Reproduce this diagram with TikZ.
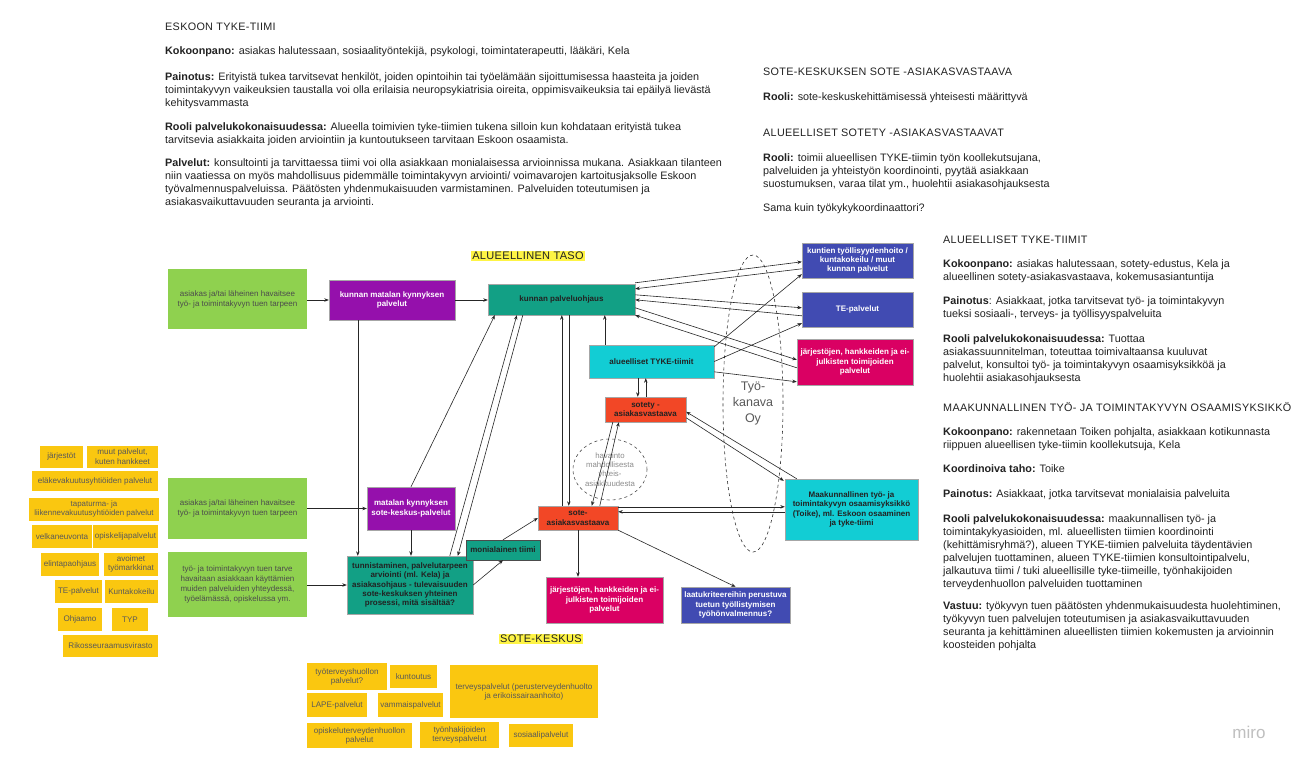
\documentclass[tikz,border=0pt]{standalone}
\usepackage{fontspec}
\setmainfont{Liberation Sans}
\newfontfamily\headfont[LetterSpace=3]{Liberation Sans}
\usetikzlibrary{calc,arrows.meta,shapes.geometric}

\definecolor{cgreen}{HTML}{8FD14F}
\definecolor{cpurple}{HTML}{9510AC}
\definecolor{cteal}{HTML}{12A085}
\definecolor{ccyan}{HTML}{12CDD4}
\definecolor{corange}{HTML}{F24726}
\definecolor{cblue}{HTML}{414BB2}
\definecolor{cmag}{HTML}{DA0063}
\definecolor{cyel}{HTML}{FAC710}
\definecolor{chl}{HTML}{FEF445}
\definecolor{ctext}{HTML}{222222}

\tikzset{
 sz/.style 2 args={minimum width=#1pt, minimum height=#2pt},
 box/.style={rectangle, inner sep=1pt, align=center, draw=black!35, line width=0.4pt, font=\fontsize{8}{9.2}\selectfont\bfseries},
 wbox/.style={box, text=white},
 dbox/.style={box, text=ctext},
 gbox/.style={rectangle, fill=cgreen, inner sep=1pt, align=center, text=black!70, font=\fontsize{8}{10}\selectfont},
 sticky/.style={rectangle, fill=cyel, inner sep=0.5pt, align=center, text=black!65, font=\fontsize{8.1}{9.2}\selectfont},
 para/.style={anchor=north west, inner sep=0pt, align=left, text=ctext, font=\fontsize{10.8}{12.9}\selectfont},
 head/.style={anchor=north west, inner sep=0pt, align=left, text=ctext, font=\headfont\fontsize{10.8}{12.9}\selectfont},
 hl/.style={fill=chl, inner sep=1.2pt, text=ctext, font=\headfont\fontsize{11}{12}\selectfont},
 arr/.style={draw=black!85, line width=0.6pt, -{Stealth[length=4.5pt,width=3.5pt]}},
 dashedshape/.style={draw=black!80, dashed, line width=0.6pt},
}

\begin{document}
\begin{tikzpicture}[x=1pt,y=-1pt]
\useasboundingbox (0,0) rectangle (1299,769);
\fill[white] (0,0) rectangle (1299,769);

% ---------- text blocks top left
\node[head] (a0) at (165,22.5) {ESKOON TYKE-TIIMI};
\node[para] (a1) at (165,46.5) {\textbf{Kokoonpano:} asiakas halutessaan, sosiaalityöntekijä, psykologi, toimintaterapeutti, lääkäri, Kela};
\node[para] (a2) at (165,72.5) {\textbf{Painotus:} Erityistä tukea tarvitsevat henkilöt, joiden opintoihin tai työelämään sijoittumisessa haasteita ja joiden\\toimintakyvyn vaikeuksien taustalla voi olla erilaisia neuropsykiatrisia oireita, oppimisvaikeuksia tai epäilyä lievästä\\kehitysvammasta};
\node[para] (a3) at (165,122.5) {\textbf{Rooli palvelukokonaisuudessa:} Alueella toimivien tyke-tiimien tukena silloin kun kohdataan erityistä tukea\\tarvitsevia asiakkaita joiden arviointiin ja kuntoutukseen tarvitaan Eskoon osaamista.};
\node[para] (a4) at (165,158.5) {\textbf{Palvelut:} konsultointi ja tarvittaessa tiimi voi olla asiakkaan monialaisessa arvioinnissa mukana. Asiakkaan tilanteen\\niin vaatiessa on myös mahdollisuus pidemmälle toimintakyvyn arviointi/ voimavarojen kartoitusjaksolle Eskoon\\työvalmennuspalveluissa. Päätösten yhdenmukaisuuden varmistaminen. Palveluiden toteutumisen ja\\asiakasvaikuttavuuden seuranta ja arviointi.};

% ---------- text blocks top right
\node[head] (b0) at (763,67.5) {SOTE-KESKUKSEN SOTE -ASIAKASVASTAAVA};
\node[para] (b1) at (763,92.5) {\textbf{Rooli:} sote-keskuskehittämisessä yhteisesti määrittyvä};
\node[head] (b2) at (763,128.5) {ALUEELLISET SOTETY -ASIAKASVASTAAVAT};
\node[para] (b3) at (763,153.5) {\textbf{Rooli:} toimii alueellisen TYKE-tiimin työn koollekutsujana,\\palveluiden ja yhteistyön koordinointi, pyytää asiakkaan\\suostumuksen, varaa tilat ym., huolehtii asiakasohjauksesta};
\node[para] (b4) at (763,203.5) {Sama kuin työkykykoordinaattori?};

% ---------- right column
\node[head] (c0) at (943,235.5) {ALUEELLISET TYKE-TIIMIT};
\node[para] (c1) at (943,259.5) {\textbf{Kokoonpano:} asiakas halutessaan, sotety-edustus, Kela ja\\alueellinen sotety-asiakasvastaava, kokemusasiantuntija};
\node[para] (c2) at (943,296.5) {\textbf{Painotus}: Asiakkaat, jotka tarvitsevat työ- ja toimintakyvyn\\tueksi sosiaali-, terveys- ja työllisyyspalveluita};
\node[para] (c3) at (943,334.5) {\textbf{Rooli palvelukokonaisuudessa:} Tuottaa\\asiakassuunnitelman, toteuttaa toimivaltaansa kuuluvat\\palvelut, konsultoi työ- ja toimintakyvyn osaamisyksikköä ja\\huolehtii asiakasohjauksesta};
\node[head] (c4) at (943,402.5) {MAAKUNNALLINEN TYÖ- JA TOIMINTAKYVYN OSAAMISYKSIKKÖ};
\node[para] (c5) at (943,427.5) {\textbf{Kokoonpano:} rakennetaan Toiken pohjalta, asiakkaan kotikunnasta\\riippuen alueellisen tyke-tiimin koollekutsuja, Kela};
\node[para] (c6) at (943,464.5) {\textbf{Koordinoiva taho:} Toike};
\node[para] (c7) at (943,489.5) {\textbf{Painotus:} Asiakkaat, jotka tarvitsevat monialaisia palveluita};
\node[para] (c8) at (943,514.5) {\textbf{Rooli palvelukokonaisuudessa:} maakunnallisen työ- ja\\toimintakykyasioiden, ml. alueellisten tiimien koordinointi\\(kehittämisryhmä?), alueen TYKE-tiimien palveluita täydentävien\\palvelujen tuottaminen, alueen TYKE-tiimien konsultointipalvelu,\\jalkautuva tiimi / tuki alueellisille tyke-tiimeille, työnhakijoiden\\terveydenhuollon palveluiden tuottaminen};
\node[para] (c9) at (943,601.5) {\textbf{Vastuu:} työkyvyn tuen päätösten yhdenmukaisuudesta huolehtiminen,\\työkyvyn tuen palvelujen toteutumisen ja asiakasvaikuttavuuden\\seuranta ja kehittäminen alueellisten tiimien kokemusten ja arvioinnin\\koosteiden pohjalta};

% ---------- section labels
\node[hl] (tasolbl) at (528,256) {ALUEELLINEN TASO};
\node[hl] (sotelbl) at (541,639) {SOTE-KESKUS};

% ---------- dashed ellipses
\node[dashedshape, ellipse, minimum width=60pt, minimum height=297pt, inner sep=0pt] (tyokanava) at (753,403.5) {};
\node[align=center, text=black!65, font=\fontsize{12.5}{16}\selectfont] (tyokanavatxt) at (753,403) {Työ-\\kanava\\Oy};
\node[dashedshape, ellipse, minimum width=74pt, minimum height=61pt, inner sep=0pt, draw=black!70] (havainto) at (610,469.5) {};
\node[align=center, text=black!45, font=\fontsize{7.8}{9.2}\selectfont] (havaintotxt) at (610,469.5) {havainto\\mahdollisesta\\yhteis-\\asiakkuudesta};

% ---------- boxes
\node[gbox, sz={139}{60}] (g1) at (237.5,299) {asiakas ja/tai läheinen havaitsee\\työ- ja toimintakyvyn tuen tarpeen};
\node[gbox, sz={139}{61}] (g2) at (237.5,508.5) {asiakas ja/tai läheinen havaitsee\\työ- ja toimintakyvyn tuen tarpeen};
\node[gbox, sz={139}{65}] (g3) at (237.5,584.5) {työ- ja toimintakyvyn tuen tarve\\havaitaan asiakkaan käyttämien\\muiden palveluiden yhteydessä,\\työelämässä, opiskelussa ym.};

\node[wbox, fill=cpurple, sz={126}{40}] (p1) at (392,300) {kunnan matalan kynnyksen\\palvelut};
\node[wbox, fill=cpurple, sz={88}{43}] (p2) at (411,508.5) {matalan kynnyksen\\sote-keskus-palvelut};
\node[dbox, fill=cteal, sz={147}{31}] (kp) at (561.5,299.5) {kunnan palveluohjaus};
\node[dbox, fill=cteal, sz={126}{58}] (tun) at (410,585) {tunnistaminen, palvelutarpeen\\arviointi (ml. Kela) ja\\asiakasohjaus - tulevaisuuden\\sote-keskuksen yhteinen\\prosessi, mitä sisältää?};
\node[dbox, fill=cteal, draw=black!70, sz={74}{20}] (mon) at (503,550) {monialainen tiimi};
\node[dbox, fill=ccyan, sz={125}{33}] (tyke) at (651.5,361.5) {alueelliset TYKE-tiimit};
\node[dbox, fill=ccyan, sz={133}{61}] (maak) at (851.5,509.5) {Maakunnallinen työ- ja\\toimintakyvyn osaamisyksikkö\\(Toike), ml. Eskoon osaaminen\\ja tyke-tiimi};
\node[dbox, fill=corange, sz={81}{25}] (sotety) at (645.5,409.5) {sotety -\\asiakasvastaava};
\node[dbox, fill=corange, sz={80}{24}] (sote) at (578,518) {sote-\\asiakasvastaava};
\node[wbox, fill=cblue, sz={111}{35}] (kuntien) at (857.5,260.5) {kuntien työllisyydenhoito /\\kuntakokeilu / muut\\kunnan palvelut};
\node[wbox, fill=cblue, sz={111}{35}] (te) at (857.5,309.5) {TE-palvelut};
\node[wbox, fill=cblue, sz={109}{36}] (laatu) at (735.5,605) {laatukriteereihin perustuva\\tuetun työllistymisen\\työhönvalmennus?};
\node[wbox, fill=cmag, sz={116}{46}] (jarj1) at (855,362) {järjestöjen, hankkeiden ja ei-\\julkisten toimijoiden\\palvelut};
\node[wbox, fill=cmag, sz={117}{46}] (jarj2) at (604.5,600) {järjestöjen, hankkeiden ja ei-\\julkisten toimijoiden\\palvelut};

% ---------- connectors
\draw[arr] (g1.east|-p1.west) -- (p1.west);
\draw[arr] (p1.east) -- (kp.west|-p1.east);
\draw[arr] ($(p1.south west)+(29,0)$) -- ($(tun.north west)+(11,0)$);
\draw[arr] (g2.east|-p2.west) -- (p2.west);
\draw[arr] (p2.south) -- (p2.south|-tun.north);
\draw[arr] (g3.east|-tun.west) -- (tun.west);
\draw[arr] (tun.east) -- (mon.south);
\draw[arr] (mon.north) -- (sote.west);
\draw[arr] (p2.north) -- ($(kp.south west)+(7,0)$);
\draw[arr] ($(tun.north west)+(103,0)$) -- ($(kp.south west)+(29,0)$);
\draw[arr] ($(kp.south west)+(35,0)$) -- ($(tun.north west)+(111,0)$);
\draw[arr] ($(sote.north west)+(24,0)$) -- ($(kp.south west)+(74,0)$);
\draw[arr] ($(kp.south west)+(81,0)$) -- ($(sote.north west)+(31,0)$);
\draw[arr] ($(tyke.north west)+(16,0)$) -- ($(kp.south west)+(117,0)$);
\draw[arr] ($(tyke.south west)+(49,0)$) -- ($(sotety.north west)+(33,0)$);
\draw[arr] ($(sotety.north west)+(41,0)$) -- ($(tyke.south west)+(57,0)$);
\draw[arr] ($(sotety.south west)+(8,0)$) -- ($(sote.north west)+(54,0)$);
\draw[arr] ($(sote.north west)+(62,0)$) -- ($(sotety.south west)+(14,0)$);
\draw[arr] ($(maak.north west)+(12,0)$) -- ($(sotety.north east)+(0,15)$);
\draw[arr] ($(sotety.north east)+(0,21)$) -- ($(maak.north west)+(-1,2)$);
\draw[arr] ($(sote.north east)+(0,1)$) -- ($(maak.north west)+(0,28)$);
\draw[arr] ($(maak.north west)+(0,33)$) -- ($(sote.north east)+(0,6)$);
\draw[arr] (sote.south) -- (sote.south|-jarj2.north);
\draw[arr] (sote.south east) -- (laatu.north);
% right fan
\draw[arr] ($(kp.north east)+(0,-1)$) -- ($(kuntien.north west)+(0,19)$);
\draw[arr] ($(kuntien.north west)+(0,26)$) -- ($(kp.north east)+(0,5)$);
\draw[arr] ($(kp.north east)+(0,11)$) -- ($(te.north west)+(0,16)$);
\draw[arr] ($(te.north west)+(0,24)$) -- ($(kp.north east)+(0,16)$);
\draw[arr] ($(kp.north east)+(0,24)$) -- ($(jarj1.north west)+(0,21)$);
\draw[arr] ($(jarj1.north west)+(0,29)$) -- (kp.south east);
\draw[arr] ($(tyke.north east)+(0,2)$) -- ($(kuntien.south west)+(0,-4)$);
\draw[arr] (tyke.east) -- ($(te.south west)+(0,-4)$);
\draw[arr] ($(tyke.north east)+(0,27)$) -- ($(jarj1.north west)+(0,43)$);

% ---------- left stickies
\node[sticky, sz={43}{22}] (s1) at (61.5,456.5) {järjestöt};
\node[sticky, sz={71}{22}] (s2) at (122.5,456.5) {muut palvelut,\\kuten hankkeet};
\node[sticky, sz={126}{20}] (s3) at (95,481) {eläkevakuutusyhtiöiden palvelut};
\node[sticky, sz={130}{23}, font=\fontsize{7.9}{9.2}\selectfont] (s4) at (94,509) {tapaturma- ja\\liikennevakuutusyhtiöiden palvelut};
\node[sticky, sz={60}{23}] (s5) at (62,536.5) {velkaneuvonta};
\node[sticky, sz={65}{23}] (s6) at (125.5,536.5) {opiskelijapalvelut};
\node[sticky, sz={58}{23}] (s7) at (70,564) {elintapaohjaus};
\node[sticky, sz={54}{23}] (s8) at (131,564) {avoimet\\työmarkkinat};
\node[sticky, sz={47}{23}] (s9) at (78.5,591.5) {TE-palvelut};
\node[sticky, sz={53}{23}] (s10) at (131.5,591.5) {Kuntakokeilu};
\node[sticky, sz={44}{23}] (s11) at (80,619.5) {Ohjaamo};
\node[sticky, sz={36}{23}] (s12) at (130,619.5) {TYP};
\node[sticky, sz={95}{22}] (s13) at (110.5,645.5) {Rikosseuraamusvirasto};

% ---------- bottom stickies
\node[sticky, sz={80}{27}] (t1) at (347,676.5) {työterveyshuollon\\palvelut?};
\node[sticky, sz={47}{23}] (t2) at (413.5,676.5) {kuntoutus};
\node[sticky, sz={148}{53}] (t3) at (524,691.5) {terveyspalvelut (perusterveydenhuolto\\ja erikoissairaanhoito)};
\node[sticky, sz={60}{24}] (t4) at (337,705) {LAPE-palvelut};
\node[sticky, sz={65}{24}] (t5) at (410.5,705) {vammaispalvelut};
\node[sticky, sz={105}{25}] (t6) at (359.5,735.5) {opiskeluterveydenhuollon\\palvelut};
\node[sticky, sz={79}{26}] (t7) at (459.5,735) {työnhakijoiden\\terveyspalvelut};
\node[sticky, sz={64}{23}] (t8) at (541,735.5) {sosiaalipalvelut};

% ---------- watermark
\node[text=black!25, font=\fontsize{17}{17}\selectfont] (miro) at (1249,732) {miro};
\end{tikzpicture}
\end{document}
